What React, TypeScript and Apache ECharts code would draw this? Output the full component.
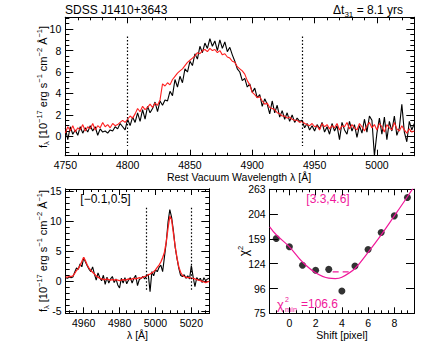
import React, { useEffect, useRef } from "react";
import * as echarts from "echarts";

// ---------- Top panel: broad Hbeta spectra ----------
const TOP_LAMBDA_START = 4750;
const TOP_LAMBDA_STEP = 2;
const TOP_BLACK = [
  0.8, -0.3, 0.9, 0.2, 0.6, 0.1, 0.9, 0.3, 0.8, 0.4,
  1.0, 0.5, 0.9, 0.1, 0.7, 0.4, 0.5, 0.3, 0.6, 0.5,
  0.9, 0.7, 1.2, 0.9, 0.6, 1.6, 1.0, 1.8, 1.3, 2.2,
  1.4, 2.5, 1.6, 2.8, 2.2, 2.6, 3.2, 2.3, 3.3, 2.9,
  3.4, 3.3, 4.2, 3.8, 5.3, 4.6, 5.6, 5.0, 6.3, 6.0,
  7.0, 6.6, 7.7, 7.2, 8.4, 7.8, 8.7, 8.2, 9.1, 8.4,
  8.9, 8.0, 9.0, 8.2, 8.8, 7.9, 8.3, 7.6, 7.0, 6.3,
  6.0, 5.2, 5.4, 4.6, 4.9, 4.1, 4.5, 3.6, 3.9, 2.8,
  3.5, 3.0, 2.1, 3.3, 2.2, 2.9, 1.8, 2.4, 1.6, 2.2,
  1.4, 2.0, 1.3, 1.7, 1.4, 1.5, 0.8, 1.2, 0.6, 1.0,
  0.5, 1.1, 0.7, 1.3, 0.4, 0.9, 0.2, 1.2, 0.5, 1.0,
  -0.3, 1.3, 0.6, 0.2, 1.4, 0.5, 1.1, -0.1, 1.0, 0.3,
  1.6, 0.4, 1.9, 1.5, -1.8, 0.3, 1.7, 0.2, 1.8, -0.3,
  1.4, 0.5, 1.9, 0.1, 0.8, 3.0, 0.4, -0.5, 1.4, 0.6,
  1.2,
];
const TOP_RED = [
  0.3, 0.9, 0.5, 1.0, 0.4, 0.8, 0.6, 1.1, 0.5, 0.9,
  0.7, 1.2, 0.6, 1.0, 0.8, 1.3, 0.9, 1.1, 0.8, 1.2,
  1.0, 1.1, 1.3, 1.5, 1.3, 1.6, 1.9, 1.7, 2.1, 2.6,
  2.3, 2.8, 2.5, 2.7, 3.0, 2.7, 3.1, 2.9, 3.4, 4.9,
  4.7, 5.0, 4.8, 5.3, 5.6, 5.9, 6.1, 6.3, 6.6, 6.9,
  7.1, 7.3, 7.5, 7.8, 7.7, 8.0, 8.1, 7.9, 8.2, 8.0,
  8.1, 7.8, 8.0, 7.6, 7.7, 7.4, 7.3, 7.0, 6.9, 6.5,
  6.3, 6.1, 5.8, 5.2, 4.8, 4.1, 3.9, 3.6, 3.7, 3.3,
  3.0, 3.1, 2.7, 2.6, 2.5, 2.2, 2.1, 1.9, 1.9, 1.7,
  1.8, 1.6, 1.5, 1.5, 1.3, 1.4, 1.2, 1.1, 1.0, 1.2,
  0.9, 1.0, 0.6, 1.2, 0.9, 1.1, 0.7, 1.0, 0.8, 1.2,
  0.6, 1.0, 0.9, 1.3, 0.7, 1.1, 0.8, 0.6, 1.2, 0.9,
  0.5, 1.0, 1.3, 0.8, 1.1, 0.6, 1.2, 0.9, 0.4, 1.1,
  0.8, 0.6, 1.3, 0.7, 0.5, 1.0, 0.6, 0.3, 0.7, 0.4,
  0.5,
];
const TOP_X_TICKS = [4750, 4800, 4850, 4900, 4950, 5000];
const TOP_Y_TICKS = [0, 2, 4, 6, 8, 10];
const TOP_MARKERS = [4800, 4940];

// ---------- Bottom-left panel: [OIII] region ----------
const BL_LAMBDA_START = 4950;
const BL_LAMBDA_STEP = 1;
const BL_BLACK = [
  0.6, 0.5, 0.7, 0.6, 0.7, 1.5, 2.2, 2.0, 2.9, 2.4,
  3.9, 3.2, 2.6, 2.0, 1.6, 2.4, 1.2, 0.2, 1.4, 0.6,
  0.1, 1.0, -0.5, 0.7, -0.3, 0.4, 0.8, -0.2, 0.4, -0.6,
  -1.1, 0.5, -0.3, 0.6, -0.4, 0.2, 0.6, -0.3, 0.5, 1.0,
  -0.7, 0.3, 0.5, 0.8, 0.4, 0.9, 1.1, -1.7, 1.6, 0.9,
  1.9, 1.6, 2.3, 2.7, 1.6, 4.0, 6.4, 9.8, 11.9, 10.6,
  8.4, 5.6, 3.8, 2.2, 1.0, 0.8, 1.1, 0.5, 0.9, 0.4,
  2.6, 0.7, -0.9, 0.6, 0.2, 0.5, -0.2, 0.6, 0.1, 0.4,
  0.5,
];
const BL_RED = [
  0.7, 0.7, 0.8, 0.8, 0.9, 1.3, 1.8, 2.1, 2.6, 3.3,
  4.0, 3.4, 2.7, 2.2, 1.8, 1.5, 1.2, 0.9, 0.7, 0.5,
  0.4, 0.3, 0.3, 0.4, 0.3, 0.2, 0.3, 0.2, 0.3, 0.2,
  0.1, 0.2, 0.3, 0.2, 0.3, 0.4, 0.3, 0.4, 0.5, 0.4,
  0.5, 0.6, 0.5, 0.7, 0.8, 0.9, 1.1, 1.2, 1.4, 1.6,
  1.9, 2.3, 2.7, 3.2, 3.9, 4.8, 6.5, 8.8, 10.8, 10.2,
  8.0, 5.8, 3.9, 2.4, 1.5, 1.0, 0.8, 0.7, 0.6, 0.6,
  0.5, 0.5, 0.4, 0.3, 0.2, 0.1, 0.0, -0.1, -0.2, -0.1,
  0.0,
];
const BL_X_TICKS = [4960, 4980, 5000, 5020];
const BL_Y_TICKS = [-5, 0, 5, 10, 15];
const BL_MARKERS = [4995, 5020];

// ---------- Bottom-right panel: chi^2 vs shift ----------
const SHIFT = [-1, 0, 1, 2, 3, 4, 5, 6, 7, 8, 9];
const CHI2 = [160, 147, 122, 116, 117, 94, 121, 143, 170, 201, 242];
const FIT_SHIFT = [-1.5, -1, 0, 1, 2, 3, 3.5, 4, 5, 6, 7, 8, 9, 9.5];
const FIT_CHI2 = [180, 166, 147, 126, 113, 107, 106.6, 108, 118, 139, 166, 201, 244, 270];
const CHI_TICK_VALUES = [75, 96, 124, 159, 204, 263];
const CHI_TICK_LABELS = ["75", "96", "124", "159", "204", "263"];
const SHIFT_TICKS = [0, 2, 4, 6, 8];
const CONF_INTERVAL = [3.3, 4.6];
const CONF_LEVEL = 114;

const FONT = "'Liberation Sans', Arial, sans-serif";
const PINK = "#f0189a";

function range(a: number, b: number, step: number) {
  const out: number[] = [];
  for (let v = a; v <= b + 1e-9; v += step) out.push(Math.round(v * 1000) / 1000);
  return out;
}

// log-like axis mapping for chi^2 (ticks equally spaced)
const LOG_LO = Math.log(CHI_TICK_VALUES[0]);
const LOG_HI = Math.log(CHI_TICK_VALUES[CHI_TICK_VALUES.length - 1]);
const chiToAxis = (v: number) => ((Math.log(v) - LOG_LO) / (LOG_HI - LOG_LO)) * (CHI_TICK_VALUES.length - 1);

function frame(
  gridIndex: number, isX: boolean, min: number, max: number,
  majors: number[], minors: number[], fmt: (v: number) => string,
  majorLen: number, minorLen: number, margin: number
) {
  const pos = isX ? ["bottom", "top"] : ["left", "right"];
  const base = (position: string, ticks: number[], len: number, labeled: boolean) => ({
    type: "value",
    gridIndex, min, max, position,
    axisLine: { show: true, onZero: false, lineStyle: { color: "#000", width: 1 } },
    axisTick: { show: true, inside: true, length: len, customValues: ticks, lineStyle: { color: "#000", width: 1 } },
    axisLabel: {
      show: labeled, customValues: majors, formatter: fmt, fontSize: 10.5,
      fontFamily: FONT, color: "#000", margin, showMinLabel: true, showMaxLabel: true,
    },
    splitLine: { show: false },
  });
  return [
    base(pos[0], majors, majorLen, true),
    base(pos[0], minors, minorLen, false),
    base(pos[1], majors, majorLen, false),
    base(pos[1], minors, minorLen, false),
  ];
}

const num = (v: number) => String(v);

export default function App() {
  const ref = useRef<HTMLDivElement>(null);
  useEffect(() => {
    if (!ref.current) return;
    const chart = echarts.init(ref.current, null, { renderer: "svg" });

    const grids = [
      { left: 65.3, top: 17.3, width: 349, height: 138.4 },
      { left: 65.7, top: 189, width: 143.6, height: 124.3 },
      { left: 269.7, top: 189.3, width: 144.3, height: 124 },
    ];

    const xAxes = [
      ...frame(0, true, 4750, 5030, TOP_X_TICKS, range(4750, 5030, 10), num, 6, 3, 4),
      ...frame(1, true, 4950, 5030, BL_X_TICKS, range(4952, 5028, 4), num, 6, 3, 4),
      ...frame(2, true, -1.5, 9.5, SHIFT_TICKS, range(-1.5, 9.5, 0.5), num, 6, 3, 4),
    ];
    const yAxes = [
      ...frame(0, false, -1.8, 11.1, TOP_Y_TICKS, range(-1.5, 11, 0.5), num, 8, 4, 4),
      ...frame(1, false, -5.3, 15.3, BL_Y_TICKS, range(-5, 15, 1), num, 8, 4, 4),
      ...frame(2, false, 0, 5, [0, 1, 2, 3, 4, 5], [0, 1, 2, 3, 4, 5],
        (v: number) => CHI_TICK_LABELS[Math.round(v)], 8, 8, 4),
    ];

    const dotted = (xs: number[], y0: number, y1: number) => ({
      symbol: ["none", "none"], silent: true, label: { show: false },
      lineStyle: { color: "#000", type: [1.5, 2], width: 1.2 },
      data: xs.map((x) => [{ coord: [x, y0] }, { coord: [x, y1] }]),
    });

    const series: any[] = [
      {
        type: "line", xAxisIndex: 0, yAxisIndex: 0, symbol: "none",
        data: TOP_BLACK.map((v, i) => [TOP_LAMBDA_START + i * TOP_LAMBDA_STEP, v]),
        lineStyle: { color: "#000", width: 1.1 },
        markLine: dotted(TOP_MARKERS, 9.3, -0.9),
      },
      {
        type: "line", xAxisIndex: 0, yAxisIndex: 0, symbol: "none",
        data: TOP_RED.map((v, i) => [TOP_LAMBDA_START + i * TOP_LAMBDA_STEP, v]),
        lineStyle: { color: "#ff2020", width: 1.1 },
      },
      {
        type: "line", xAxisIndex: 4, yAxisIndex: 4, symbol: "none",
        data: BL_BLACK.map((v, i) => [BL_LAMBDA_START + i * BL_LAMBDA_STEP, v]),
        lineStyle: { color: "#000", width: 1.1 },
        markLine: dotted(BL_MARKERS, 12.2, -1.4),
      },
      {
        type: "line", xAxisIndex: 4, yAxisIndex: 4, symbol: "none",
        data: BL_RED.map((v, i) => [BL_LAMBDA_START + i * BL_LAMBDA_STEP, v]),
        lineStyle: { color: "#ff2020", width: 1.3 },
      },
      {
        type: "line", xAxisIndex: 8, yAxisIndex: 8, symbol: "none", smooth: 0.4,
        data: FIT_SHIFT.map((s, i) => [s, chiToAxis(FIT_CHI2[i])]),
        lineStyle: { color: PINK, width: 1.2 },
      },
      {
        type: "line", xAxisIndex: 8, yAxisIndex: 8, symbol: "none",
        data: CONF_INTERVAL.map((s) => [s, chiToAxis(CONF_LEVEL)]),
        lineStyle: { color: PINK, width: 1.2, type: [6, 4] },
      },
      {
        type: "scatter", xAxisIndex: 8, yAxisIndex: 8, symbolSize: 7,
        data: SHIFT.map((s, i) => [s, chiToAxis(CHI2[i])]),
        itemStyle: { color: "#000" },
      },
    ];

    const txt = (x: number, y: number, text: string, opts: any = {}) => ({
      type: "text", x, y, rotation: opts.rotation || 0,
      style: {
        text, fill: opts.fill || "#000", font: `${opts.size || 10}px ${FONT}`,
        textAlign: opts.align || "center", textVerticalAlign: "middle", rich: opts.rich,
      },
    });

    const fluxRich = {
      n: { fontSize: 11, fontFamily: FONT, fill: "#000", lineHeight: 15 },
      sub: { fontSize: 7.5, fontFamily: FONT, fill: "#000", verticalAlign: "bottom", lineHeight: 15 },
      sup: { fontSize: 7.5, fontFamily: FONT, fill: "#000", verticalAlign: "top", lineHeight: 15 },
    };
    const fluxLabel = "{n|f}{sub|λ}{n| [10}{sup|−17}{n| erg s}{sup|−1}{n| cm}{sup|−2}{n| Å}{sup|−1}{n|]}";

    const graphic = [
      txt(65, 10, "SDSS J1410+3643", { align: "left", size: 12 }),
      txt(403, 10, "{n|Δt}{sub|31}{n| = 8.1 yrs}", {
        align: "right", size: 12,
        rich: {
          n: { fontSize: 12, fontFamily: FONT, fill: "#000", lineHeight: 16 },
          sub: { fontSize: 8, fontFamily: FONT, fill: "#000", verticalAlign: "bottom", lineHeight: 16 },
        },
      }),
      txt(239, 177, "Rest Vacuum Wavelength λ [Å]", { size: 10.5 }),
      txt(43, 87, fluxLabel, { rotation: Math.PI / 2, rich: fluxRich }),
      txt(43, 251, fluxLabel, { rotation: Math.PI / 2, rich: fluxRich }),
      txt(105.5, 199, "[−0.1,0.5]", { size: 12 }),
      txt(137.5, 335, "λ [Å]", { size: 10.5 }),
      txt(244, 251, "{c|χ}{s|2}", {
        rotation: Math.PI / 2,
        rich: {
          c: { fontSize: 12, fontFamily: FONT, fill: "#000", lineHeight: 15 },
          s: { fontSize: 7.5, fontFamily: FONT, fill: "#000", verticalAlign: "top", lineHeight: 15 },
        },
      }),
      txt(342, 335, "Shift [pixel]", { size: 10.5 }),
      txt(328, 199, "[3.3,4.6]", { size: 12, fill: PINK }),
      txt(277, 304, "χ", { align: "left", size: 13, fill: PINK }),
      txt(285, 299, "2", { align: "left", size: 7, fill: PINK }),
      txt(285, 309, "min", { align: "left", size: 7.5, fill: PINK }),
      txt(301, 304, "=106.6", { align: "left", size: 12, fill: PINK }),
    ];

    chart.setOption({
      animation: false,
      backgroundColor: "#fff",
      grid: grids,
      xAxis: xAxes,
      yAxis: yAxes,
      series,
      graphic,
    });
    return () => chart.dispose();
  }, []);

  return (
    <div
      ref={ref}
      style={{ position: "fixed", left: 0, top: 0, width: 436, height: 349, background: "#fff" }}
    />
  );
}
